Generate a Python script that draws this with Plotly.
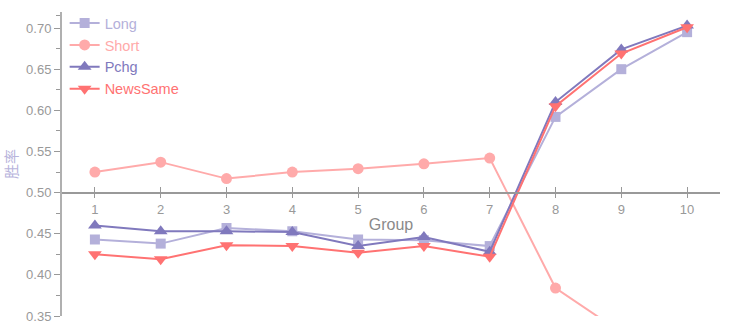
import plotly.graph_objects as go

groups = [1, 2, 3, 4, 5, 6, 7, 8, 9, 10]
long_vals = [0.443, 0.438, 0.457, 0.453, 0.443, 0.442, 0.435, 0.592, 0.650, 0.695]
short_vals = [0.525, 0.537, 0.517, 0.525, 0.529, 0.535, 0.542, 0.384, 0.330, 0.300]
pchg_vals = [0.460, 0.453, 0.453, 0.452, 0.435, 0.446, 0.428, 0.610, 0.674, 0.703]
newssame_vals = [0.425, 0.419, 0.436, 0.435, 0.427, 0.435, 0.422, 0.605, 0.669, 0.701]

series = [
    ("Long", long_vals, "#b4b0da", "square", 10),
    ("Short", short_vals, "#ffaaaa", "circle", 11),
    ("Pchg", pchg_vals, "#8079bd", "triangle-up", 12),
    ("NewsSame", newssame_vals, "#ff7272", "triangle-down", 12),
]

fig = go.Figure()
for name, vals, color, sym, size in series:
    fig.add_trace(go.Scatter(
        x=groups, y=vals, mode="lines+markers",
        name='<span style="color:%s">%s</span>' % (color, name),
        line=dict(color=color, width=2),
        marker=dict(symbol=sym, size=size, color=color),
    ))

# invisible trace for overlay axis (inside ticks)
fig.add_trace(go.Scatter(x=groups, y=long_vals, xaxis="x2", mode="none",
                         showlegend=False, hoverinfo="skip"))

ymin, ymax = 0.35, 0.7195
xpos = (0.5 - ymin) / (ymax - ymin)
gray = "#999999"

fig.update_layout(
    width=729, height=327,
    margin=dict(l=62, r=9, t=12, b=11, autoexpand=False),
    paper_bgcolor="white", plot_bgcolor="white",
    font=dict(family="Liberation Sans, Arial, sans-serif", color=gray),
    showlegend=True,
    legend=dict(x=0.004, y=0.978, xanchor="left", yanchor="top",
                yref="container",
                bgcolor="rgba(0,0,0,0)", font=dict(size=14.5),
                itemwidth=30, tracegroupgap=0, traceorder="normal"),
    xaxis=dict(
        range=[0.5, 10.5], anchor="free", position=xpos, automargin=False,
        tickvals=groups, ticktext=[str(g) for g in groups],
        ticks="outside", ticklen=5, tickcolor=gray, tickwidth=1,
        showline=True, linecolor=gray, linewidth=1.5,
        showgrid=False, zeroline=False,
        tickfont=dict(size=13, color=gray),
        title=dict(text="Group", font=dict(size=16, color="#8a8a8a"), standoff=2),
    ),
    xaxis2=dict(
        range=[0.5, 10.5], overlaying="x", anchor="free", position=xpos,
        automargin=False,
        tickvals=groups, ticks="inside", ticklen=6, tickcolor=gray, tickwidth=1,
        showticklabels=False, showline=False, showgrid=False, zeroline=False,
    ),
    yaxis=dict(
        range=[ymin, ymax], automargin=False,
        tickvals=[0.35, 0.40, 0.45, 0.50, 0.55, 0.60, 0.65, 0.70],
        ticktext=["0.35", "0.40", "0.45", "0.50", "0.55", "0.60", "0.65", "0.70"],
        ticks="outside", ticklen=6, tickcolor=gray,
        minor=dict(tickvals=[0.375, 0.425, 0.475, 0.525, 0.575, 0.625, 0.675, 0.715],
                   ticks="outside", ticklen=4, tickcolor=gray),
        showline=True, linecolor="#b0b0b0", linewidth=2,
        showgrid=False, zeroline=False,
        tickfont=dict(size=13, color=gray),
        title=dict(text="胜率", font=dict(size=15, color="#b8b4dc",
                   family="Noto Sans CJK SC"), standoff=7),
    ),
)

fig.write_html("out.html")
